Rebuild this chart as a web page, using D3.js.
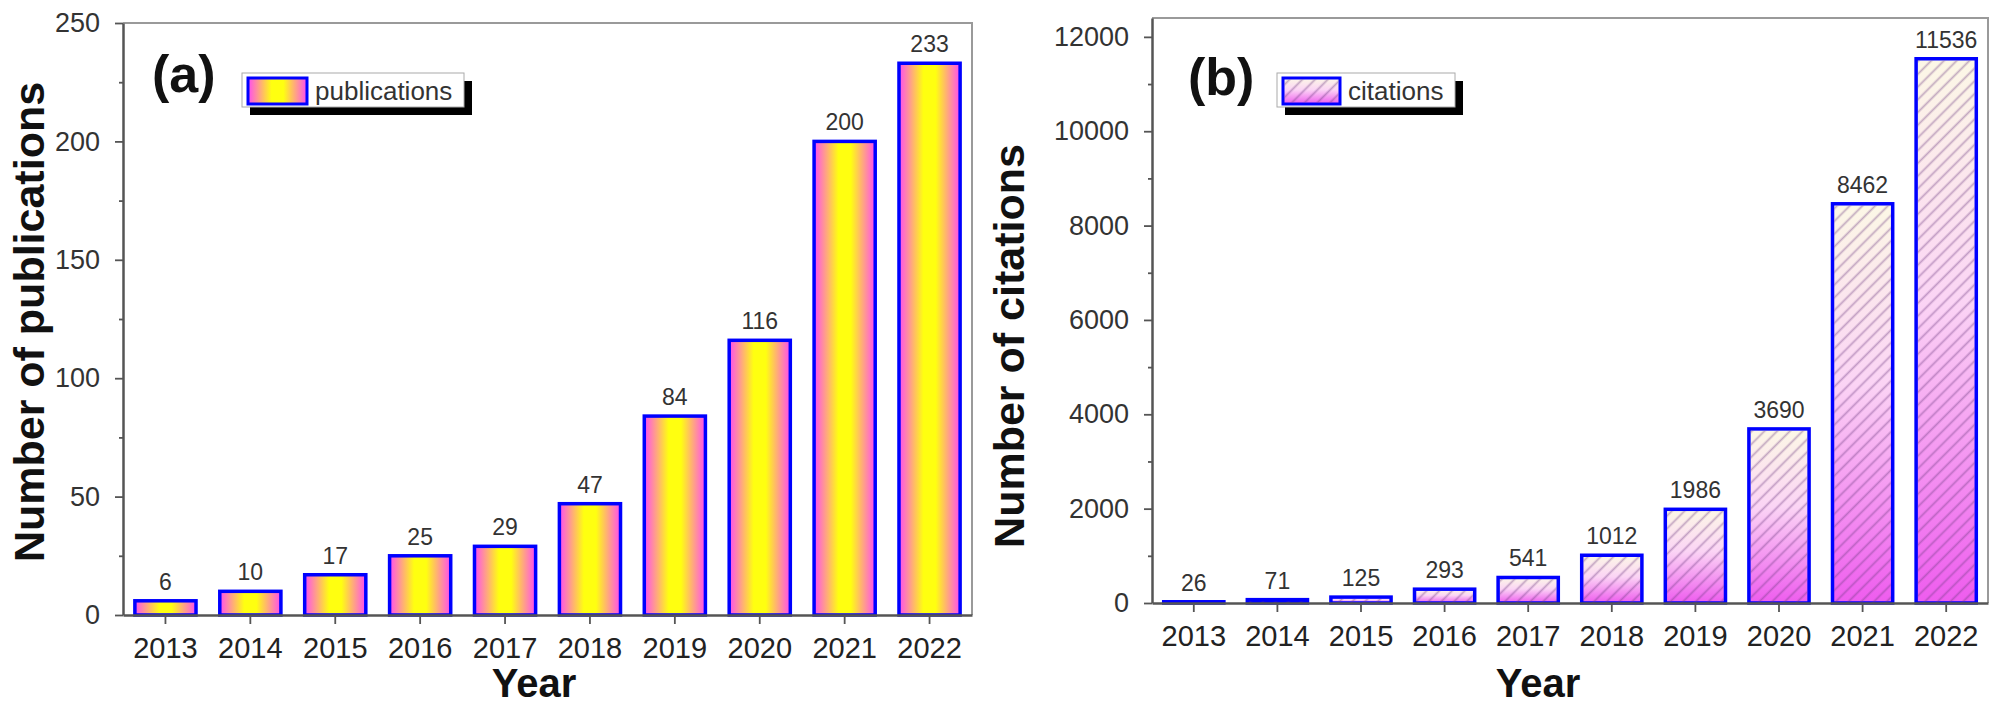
<!DOCTYPE html>
<html>
<head>
<meta charset="utf-8">
<script src="https://cdn.jsdelivr.net/npm/d3@7"></script>
<style>
  body { margin: 0; background: #fff; }
  svg text { font-family: "Liberation Sans", Arial, sans-serif; }
</style>
</head>
<body>
<div id="chart-area"></div>
<script>
// values
var years = ["2013", "2014", "2015", "2016", "2017", "2018", "2019", "2020", "2021", "2022"];
var publications = [6, 10, 17, 25, 29, 47, 84, 116, 200, 233];
var citations = [26, 71, 125, 293, 541, 1012, 1986, 3690, 8462, 11536];

var pubTicks = [0, 50, 100, 150, 200, 250];
var pubMinor = [25, 75, 125, 175, 225];
var citeTicks = [0, 2000, 4000, 6000, 8000, 10000, 12000];
var citeMinor = [1000, 3000, 5000, 7000, 9000, 11000];

var svg = d3.select("#chart-area").append("svg")
  .attr("width", 2000)
  .attr("height", 719);

var defs = svg.append("defs");

// magenta - yellow - magenta fill of panel (a)
var pubFill = defs.append("linearGradient")
  .attr("id", "pubFill")
  .attr("x1", 0).attr("x2", 1).attr("y1", 0).attr("y2", 0);
pubFill.append("stop").attr("offset", "0").attr("stop-color", "#ff4cf2");
pubFill.append("stop").attr("offset", "0.4").attr("stop-color", "#ffff10");
pubFill.append("stop").attr("offset", "0.6").attr("stop-color", "#ffff10");
pubFill.append("stop").attr("offset", "1").attr("stop-color", "#ff4cf2");

// pale top to magenta bottom for panel (b)
var citeFill = defs.append("linearGradient")
  .attr("id", "citeFill")
  .attr("x1", 0).attr("x2", 0).attr("y1", 0).attr("y2", 1);
citeFill.append("stop").attr("offset", "0").attr("stop-color", "#fcf8e6");
citeFill.append("stop").attr("offset", "0.45").attr("stop-color", "#fbd4f5");
citeFill.append("stop").attr("offset", "1").attr("stop-color", "#ee5cee");

// "/" hatch
var hatch = defs.append("pattern")
  .attr("id", "hatch")
  .attr("patternUnits", "userSpaceOnUse")
  .attr("width", 9)
  .attr("height", 9)
  .attr("patternTransform", "rotate(45)");
hatch.append("line")
  .attr("x1", 4.5).attr("y1", 0)
  .attr("x2", 4.5).attr("y2", 9)
  .attr("stroke", "rgba(110,60,130,0.4)")
  .attr("stroke-width", 1.8);

function drawPanel(cfg) {
  var x = d3.scaleBand()
    .domain(years)
    .range([cfg.left, cfg.right])
    .paddingInner(0.28)
    .paddingOuter(0.14);

  var y = d3.scaleLinear()
    .domain([0, cfg.max])
    .range([cfg.bottom, cfg.top]);

  var g = svg.append("g");

  // frame (top and right)
  g.append("path")
    .attr("d", "M" + cfg.left + "," + cfg.top + "H" + cfg.right + "V" + cfg.bottom)
    .attr("fill", "none")
    .attr("stroke", "#9a9a9a")
    .attr("stroke-width", 2);

  // bars
  g.selectAll(".bar")
    .data(cfg.values)
    .enter().append("rect")
    .attr("class", "bar")
    .attr("x", function (d, i) { return x(years[i]); })
    .attr("width", x.bandwidth())
    .attr("y", function (d) { return y(d); })
    .attr("height", function (d) { return cfg.bottom - y(d); })
    .attr("fill", cfg.fill)
    .attr("stroke", "#0000ff")
    .attr("stroke-width", 3.5);

  if (cfg.hatch) {
    g.selectAll(".hatch")
      .data(cfg.values)
      .enter().append("rect")
      .attr("class", "hatch")
      .attr("x", function (d, i) { return x(years[i]) + 1.75; })
      .attr("width", x.bandwidth() - 3.5)
      .attr("y", function (d) { return y(d) + 1.75; })
      .attr("height", function (d) { return Math.max(0, cfg.bottom - y(d) - 1.75); })
      .attr("fill", "url(#hatch)");
  }

  // value labels
  g.selectAll(".val")
    .data(cfg.values)
    .enter().append("text")
    .attr("class", "val")
    .attr("x", function (d, i) { return x(years[i]) + x.bandwidth() / 2; })
    .attr("y", function (d) { return y(d) - 11; })
    .attr("text-anchor", "middle")
    .attr("font-size", 23)
    .attr("fill", "#333")
    .text(function (d) { return d; });

  // y axis
  var ya = g.append("g")
    .attr("transform", "translate(" + cfg.left + ",0)")
    .call(d3.axisLeft(y).tickValues(cfg.ticks).tickSize(8).tickSizeOuter(0).tickPadding(15).tickFormat(d3.format("d")));
  g.append("g")
    .attr("transform", "translate(" + cfg.left + ",0)")
    .call(d3.axisLeft(y).tickValues(cfg.minor).tickSize(4).tickFormat(""))
    .call(function (s) { s.select(".domain").remove(); });

  // x axis
  var xa = g.append("g")
    .attr("transform", "translate(0," + cfg.bottom + ")")
    .call(d3.axisBottom(x).tickSize(9).tickSizeOuter(0).tickPadding(13));

  g.selectAll(".domain").attr("stroke", "#555").attr("stroke-width", 2.5);
  g.selectAll(".tick line").attr("stroke", "#555").attr("stroke-width", 1.8);
  ya.selectAll("text").attr("font-size", 27).attr("fill", "#333");
  xa.selectAll("text").attr("font-size", 29).attr("fill", "#222");

  // axis titles
  g.append("text")
    .attr("transform", "translate(" + cfg.yTitleX + "," + cfg.yTitleY + ") rotate(-90)")
    .attr("text-anchor", "middle")
    .attr("font-size", 43)
    .attr("font-weight", "bold")
    .attr("fill", "#111")
    .text(cfg.yTitle);

  g.append("text")
    .attr("x", cfg.xTitleX)
    .attr("y", 697)
    .attr("text-anchor", "middle")
    .attr("font-size", 40)
    .attr("font-weight", "bold")
    .attr("fill", "#111")
    .text("Year");

  // panel tag
  g.append("text")
    .attr("x", cfg.tagX)
    .attr("y", cfg.tagY)
    .attr("font-size", 52)
    .attr("font-weight", "bold")
    .attr("fill", "#111")
    .text(cfg.tag);

  // legend with drop shadow
  var lg = g.append("g").attr("transform", "translate(" + cfg.legX + ",73)");
  lg.append("rect")
    .attr("x", 8).attr("y", 8)
    .attr("width", cfg.legW).attr("height", 34)
    .attr("fill", "#000");
  lg.append("rect")
    .attr("width", cfg.legW).attr("height", 34)
    .attr("fill", "#fff")
    .attr("stroke", "#aaa")
    .attr("stroke-width", 1);
  lg.append("rect")
    .attr("x", 6).attr("y", 5)
    .attr("width", cfg.swW).attr("height", 26)
    .attr("fill", cfg.fill)
    .attr("stroke", "#0000ff")
    .attr("stroke-width", 3);
  if (cfg.hatch) {
    lg.append("rect")
      .attr("x", 7.5).attr("y", 6.5)
      .attr("width", cfg.swW - 3).attr("height", 23)
      .attr("fill", "url(#hatch)");
  }
  lg.append("text")
    .attr("x", cfg.swW + 14)
    .attr("y", 27)
    .attr("font-size", 26)
    .attr("fill", "#333")
    .text(cfg.legText);
}

drawPanel({
  left: 123, right: 972, top: 23, bottom: 615, max: 250,
  values: publications, ticks: pubTicks, minor: pubMinor,
  fill: "url(#pubFill)", hatch: false,
  yTitle: "Number of publications", yTitleX: 44, yTitleY: 322,
  xTitleX: 534,
  tag: "(a)", tagX: 152, tagY: 92,
  legX: 242, legW: 222, swW: 59, legText: "publications"
});

drawPanel({
  left: 1152, right: 1988, top: 18, bottom: 603, max: 12400,
  values: citations, ticks: citeTicks, minor: citeMinor,
  fill: "url(#citeFill)", hatch: true,
  yTitle: "Number of citations", yTitleX: 1024, yTitleY: 346,
  xTitleX: 1538,
  tag: "(b)", tagX: 1188, tagY: 95,
  legX: 1277, legW: 178, swW: 57, legText: "citations"
});
</script>
</body>
</html>
